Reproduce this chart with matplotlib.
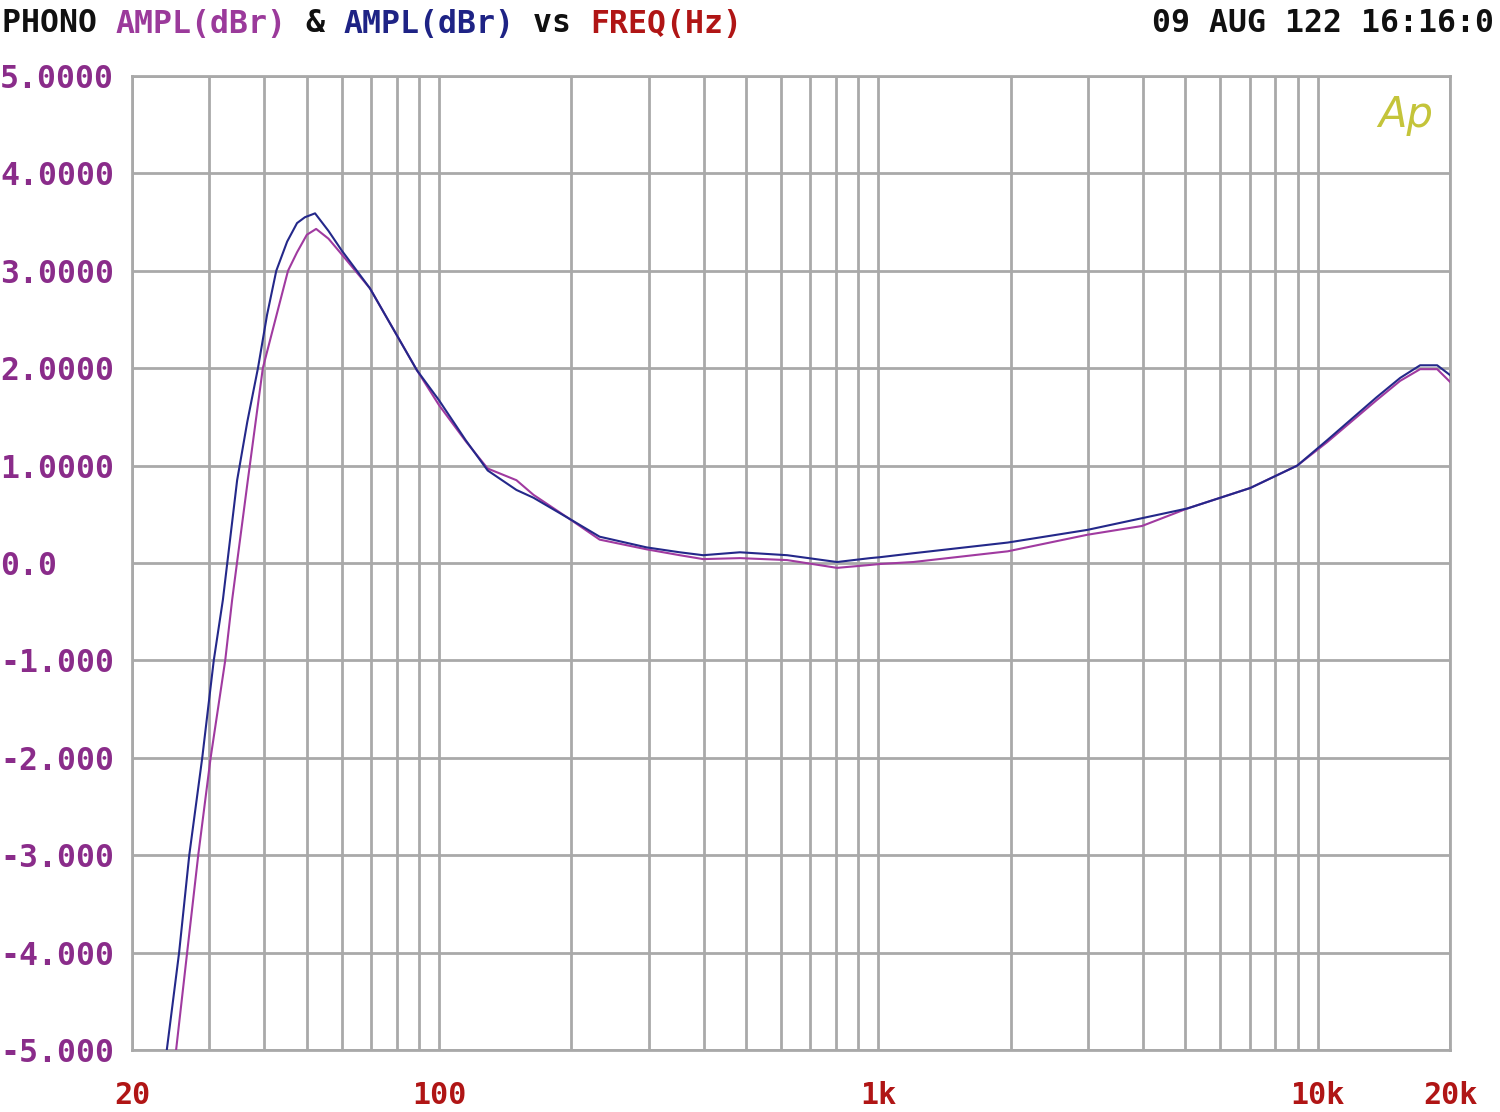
import matplotlib
matplotlib.use("Agg")
import matplotlib.pyplot as plt
import numpy as np

# ---- data ----
freq_blue = [23.6, 24.0, 25.6, 27.0, 28.9, 30.7, 32.2, 34.7, 36.6, 38.7, 40.6, 42.6, 45.1,
             47.5, 49.5, 52.2, 56, 60, 69.6, 89, 100, 115, 129, 150, 164, 197, 232,
             297, 353, 399, 484, 620, 805, 957, 1010, 1200, 1970, 2990, 3980, 5050,
             7020, 8980, 10500, 13600, 15400, 17100, 18700, 20000]
amp_blue = [-5.3, -5.0, -4.0, -3.0, -2.0, -1.0, -0.38, 0.85, 1.45, 2.0, 2.55, 3.0, 3.30,
            3.49, 3.55, 3.59, 3.41, 3.21, 2.82, 1.98, 1.67, 1.26, 0.95, 0.75, 0.67, 0.46, 0.27,
            0.16, 0.11, 0.08, 0.11, 0.08, 0.01, 0.05, 0.06, 0.10, 0.21, 0.34, 0.46, 0.56,
            0.77, 1.0, 1.26, 1.70, 1.90, 2.03, 2.03, 1.93]

freq_mag = [24.8, 25.2, 26.7, 28.3, 30.2, 32.6, 33.8, 36.7, 39.7, 42.8, 45.3, 47.5,
            50.0, 52.5, 56, 60, 69.6, 89, 100, 115, 129, 150, 164, 197, 232, 297,
            353, 399, 484, 620, 805, 957, 1010, 1200, 1970, 2990, 3980, 5050, 7020,
            8980, 10500, 13600, 15400, 17100, 18700, 20000]
amp_mag = [-5.3, -5.0, -4.0, -3.0, -2.0, -1.0, -0.38, 0.85, 2.0, 2.57, 3.0, 3.19,
           3.37, 3.43, 3.33, 3.17, 2.82, 1.98, 1.62, 1.25, 0.97, 0.85, 0.70, 0.46, 0.24, 0.14,
           0.08, 0.04, 0.05, 0.03, -0.05, -0.02, -0.01, 0.01, 0.12, 0.29, 0.38, 0.56, 0.77,
           1.0, 1.24, 1.67, 1.87, 1.99, 1.99, 1.86]

ytick_vals = [5, 4, 3, 2, 1, 0, -1, -2, -3, -4, -5]
ytick_labels = ["5.0000", "4.0000", "3.0000", "2.0000", "1.0000", "0.0",
                "-1.000", "-2.000", "-3.000", "-4.000", "-5.000"]
xtick_vals = [20, 100, 1000, 10000, 20000]
xtick_labels = ["20", "100", "1k", "10k", "20k"]
xgrid_vals = [30, 40, 50, 60, 70, 80, 90, 200, 300, 400, 500, 600, 700, 800, 900,
              2000, 3000, 4000, 5000, 6000, 7000, 8000, 9000]

title_parts = [("PHONO ", "#101010"), ("AMPL(dBr)", "#9b3a9b"), (" & ", "#101010"),
               ("AMPL(dBr)", "#1e2385"), (" vs ", "#101010"), ("FREQ(Hz)", "#b01515")]
date_text = "09 AUG 122 16:16:0"

# ---- style ----
W, H, DPI = 1500, 1112, 100
FS = 22.7
MONO = "DejaVu Sans Mono"
GRID = "#a9a9a9"
BLUE = "#24288a"
MAG = "#a03aa0"
YLAB = "#8a2c8a"
XLAB = "#b01515"

fig = plt.figure(figsize=(W / DPI, H / DPI), dpi=DPI)
fig.patch.set_facecolor("white")
ax = fig.add_axes([132 / W, 62 / H, 1318 / W, 974 / H])
ax.set_xscale("log")
ax.set_xlim(20, 20000)
ax.set_ylim(-5, 5)

ax.plot(freq_mag, amp_mag, color=MAG, lw=1.5, zorder=3)
ax.plot(freq_blue, amp_blue, color=BLUE, lw=1.5, zorder=4)

ax.set_xticks(xtick_vals, labels=xtick_labels)
ax.set_xticks(xgrid_vals, minor=True)
ax.set_xticklabels([], minor=True)
ax.set_yticks(ytick_vals, labels=ytick_labels)
ax.grid(True, which="both", color=GRID, lw=2.0, zorder=1)
for s in ax.spines.values():
    s.set_color(GRID)
    s.set_linewidth(2.0)
ax.tick_params(axis="both", which="both", length=0)
ax.tick_params(axis="y", pad=132 * 0.72, labelsize=FS, labelcolor=YLAB)
ax.tick_params(axis="x", pad=22, labelsize=FS - 1, labelcolor=XLAB)
for lab in ax.get_yticklabels():
    lab.set_horizontalalignment("left")
    lab.set_fontfamily(MONO)
    lab.set_fontweight("bold")
for lab in ax.get_xticklabels():
    lab.set_fontfamily(MONO)
    lab.set_fontweight("bold")

# title in colored pieces (monospace)
char_w = 0.602 * FS * DPI / 72.0
pos = 0
for txt, col in title_parts:
    fig.text((2 + pos * char_w) / W, 1 - 24 / H, txt, color=col, fontsize=FS,
             family=MONO, weight="bold", ha="left", va="center")
    pos += len(txt)
fig.text(1494 / W, 1 - 24 / H, date_text, color="#101010", fontsize=FS,
         family=MONO, weight="bold", ha="right", va="center")

# Ap logo
ax.text(0.987, 0.982, "Ap", transform=ax.transAxes, color="#c4c43a", fontsize=30,
        style="italic", family="DejaVu Sans", weight="light", ha="right", va="top")

fig.savefig("out.png", dpi=DPI, facecolor="white")
